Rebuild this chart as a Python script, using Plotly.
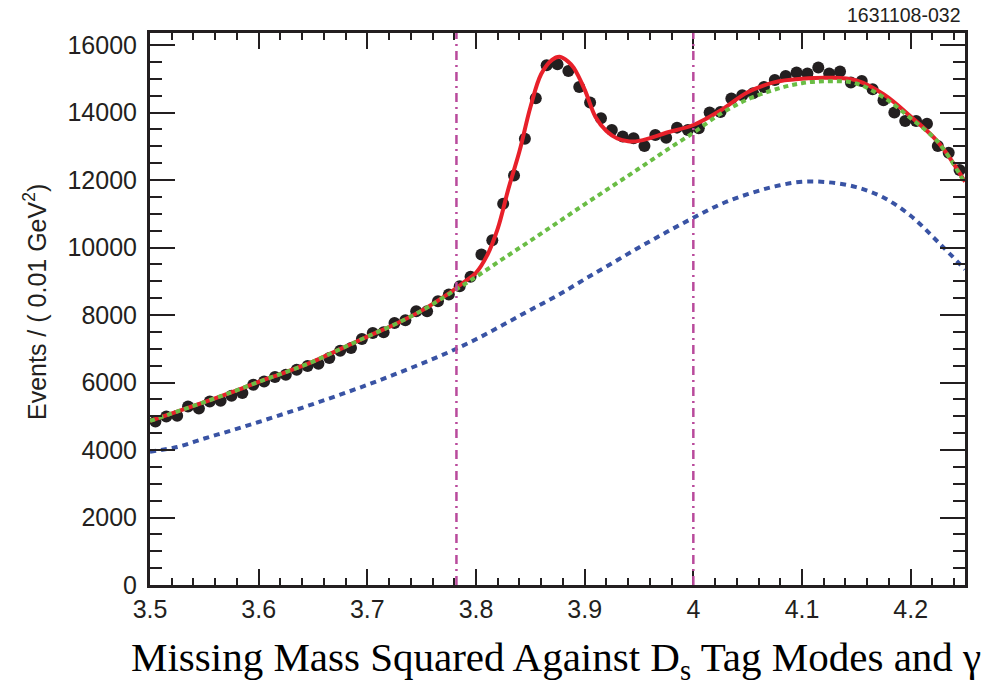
import plotly.graph_objects as go

# ---------------- data ----------------
bin_lo = 3.5
bin_w = 0.01
counts = [4846, 4994, 5015, 5291, 5231, 5439, 5460, 5608, 5688, 5935,
          6033, 6163, 6231, 6380, 6490, 6558, 6727, 6944, 7024, 7291,
          7469, 7487, 7766, 7843, 8110, 8110, 8407, 8605, 8852, 9131,
          9792, 10217, 11297, 12136, 13225, 14421, 15401, 15430, 15231, 14757,
          14294, 13828, 13481, 13290, 13234, 13006, 13332, 13255, 13552, 13481,
          13537, 13997, 14015, 14412, 14510, 14570, 14757, 14964, 15083, 15184,
          15154, 15332, 15154, 15213, 14887, 14935, 14688, 14362, 13997, 13748,
          13748, 13670, 13006, 12810, 12294]
bin_x = [round(bin_lo + bin_w * (i + 0.5), 4) for i in range(len(counts))]

curve_x = [3.500, 3.525, 3.550, 3.575, 3.600, 3.625, 3.650, 3.675, 3.700, 3.725,
           3.750, 3.775, 3.800, 3.825, 3.850, 3.875, 3.900, 3.925, 3.950, 3.975,
           4.000, 4.025, 4.050, 4.075, 4.100, 4.125, 4.150, 4.175, 4.200, 4.225, 4.250]
green_y = [4860, 5140, 5420, 5710, 6020, 6310, 6620, 6990, 7360, 7720,
           8130, 8620, 9130, 9670, 10200, 10740, 11280, 11810, 12340, 12880,
           13400, 13960, 14390, 14680, 14870, 14930, 14860, 14450, 13830, 13130, 11900]
blue_y = [3950, 4090, 4340, 4580, 4830, 5090, 5360, 5640, 5930, 6240,
          6560, 6900, 7280, 7710, 8150, 8580, 9060, 9530, 10000, 10450,
          10880, 11280, 11580, 11810, 11950, 11930, 11790, 11480, 10940, 10170, 9350]

red_x = [3.500, 3.525, 3.550, 3.575, 3.600, 3.625, 3.650, 3.675, 3.700, 3.725,
         3.750, 3.775, 3.790, 3.800, 3.810, 3.820, 3.830, 3.840, 3.850, 3.860,
         3.870, 3.877, 3.885, 3.890, 3.900, 3.910, 3.920, 3.930, 3.940, 3.950,
         3.960, 3.975, 4.000, 4.025, 4.050, 4.075, 4.100, 4.125, 4.150, 4.175,
         4.200, 4.225, 4.250]
red_y = [4860, 5140, 5420, 5710, 6020, 6310, 6620, 6990, 7360, 7720,
         8130, 8640, 9000, 9250, 9750, 10560, 11760, 12850, 14150, 15140,
         15560, 15650, 15500, 15320, 14680, 13870, 13450, 13230, 13150, 13160,
         13240, 13400, 13630, 14060, 14600, 14900, 15000, 15030, 14950, 14540,
         13880, 13130, 11950]

vlines = [3.782, 4.0]

x_ticks = [3.5, 3.6, 3.7, 3.8, 3.9, 4.0, 4.1, 4.2]
y_ticks = [0, 2000, 4000, 6000, 8000, 10000, 12000, 14000, 16000]

# ---------------- figure ----------------
ink = "#231f20"
fig = go.Figure()

fig.add_trace(go.Scatter(x=bin_x, y=counts, mode="markers",
                         marker=dict(color=ink, size=12, line=dict(width=0)),
                         showlegend=False))
fig.add_trace(go.Scatter(x=curve_x, y=blue_y, mode="lines", line_shape="spline",
                         line=dict(color="#3953a4", width=4, dash="6px,5px"),
                         showlegend=False))
fig.add_trace(go.Scatter(x=red_x, y=red_y, mode="lines", line_shape="spline",
                         line=dict(color="#e8202a", width=4),
                         showlegend=False))
fig.add_trace(go.Scatter(x=curve_x, y=green_y, mode="lines", line_shape="spline",
                         line=dict(color="#6abd45", width=4, dash="5px,4px"),
                         showlegend=False))

for xv in vlines:
    fig.add_shape(type="line", x0=xv, x1=xv, y0=0, y1=1, xref="x", yref="paper",
                  line=dict(color="#b94a9c", width=2.5, dash="9px,5px,2px,5px"))

tickfont = dict(family="Liberation Sans, Arial, sans-serif", size=25, color=ink)

fig.update_xaxes(range=[3.5, 4.25], tickmode="array", tickvals=x_ticks,
                 ticktext=[("%g" % v) for v in x_ticks],
                 ticks="inside", ticklen=16, tickwidth=1.5, tickcolor=ink,
                 showline=True, linewidth=3, linecolor=ink, mirror="ticks",
                 showgrid=False, zeroline=False, tickfont=tickfont,
                 minor=dict(dtick=0.02, tick0=3.5, ticks="inside", ticklen=7,
                            tickwidth=1.5, tickcolor=ink, showgrid=False))
fig.update_yaxes(range=[0, 16356], tickmode="array", tickvals=y_ticks,
                 ticktext=[str(v) for v in y_ticks],
                 ticks="inside", ticklen=25, tickwidth=1.5, tickcolor=ink,
                 showline=True, linewidth=3, linecolor=ink, mirror="ticks",
                 showgrid=False, zeroline=False, tickfont=tickfont,
                 ticklabelstandoff=5,
                 minor=dict(dtick=500, tick0=0, ticks="inside", ticklen=12,
                            tickwidth=1.5, tickcolor=ink, showgrid=False))

fig.add_annotation(text="Events / ( 0.01 GeV<sup>2</sup>)", textangle=-90,
                   x=(35 - 150) / 815, y=(585 - 302) / 552, xref="paper", yref="paper",
                   xanchor="center", yanchor="middle", showarrow=False,
                   font=dict(family="Liberation Sans, Arial, sans-serif", size=25, color=ink))
fig.add_annotation(text="Missing Mass Squared Against D<sub>s</sub> Tag Modes and γ",
                   x=(556 - 150) / 815, y=(585 - 660) / 552, xref="paper", yref="paper",
                   xanchor="center", yanchor="middle", showarrow=False,
                   font=dict(family="Liberation Serif, Times New Roman, serif", size=41, color="#000000"))
fig.add_annotation(text="1631108-032",
                   x=(963 - 150) / 815, y=(585 - 15) / 552, xref="paper", yref="paper",
                   xanchor="right", yanchor="middle", showarrow=False,
                   font=dict(family="Liberation Sans, Arial, sans-serif", size=19.5, color=ink))

fig.update_layout(width=1001, height=685,
                  margin=dict(l=150, r=36, t=33, b=100),
                  paper_bgcolor="white", plot_bgcolor="white")

fig.write_html("out.html")
